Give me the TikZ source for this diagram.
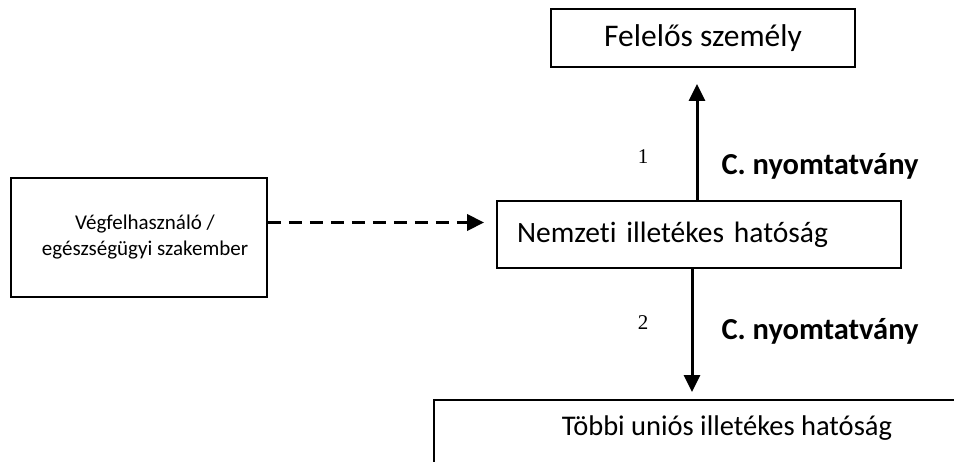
\documentclass[tikz,border=0pt]{standalone}
\usepackage{fontspec}
\setmainfont{Carlito}[Ligatures={NoCommon,TeX}]
\newfontfamily\numfont{Liberation Serif}
\usetikzlibrary{arrows.meta}
\tikzset{
  box/.style={draw=black, line width=1.8pt, rectangle, inner sep=0pt},
  arr/.style={line width=3pt, -{Triangle[width=16pt,length=17pt]}},
  dasharr/.style={line width=3.4pt, dash pattern=on 13pt off 8pt, -{Triangle[width=16pt,length=17pt]}},
  clabel/.style={font=\fontsize{30.5}{34}\selectfont\bfseries},
  nlabel/.style={font=\fontsize{21}{24}\selectfont\numfont}
}
\begin{document}
\begin{tikzpicture}[x=1pt,y=-1pt]
\useasboundingbox (0,0) rectangle (954,461);
\clip (0,0) rectangle (954,461);
\node[box, font=\fontsize{31.5}{36}\selectfont, minimum width=304pt, minimum height=58pt] (felelos) at (703,38) {Felelős személy};
\node[box, font=\fontsize{29.5}{34}\selectfont, minimum width=404pt, minimum height=67pt, text width=364pt, align=left, inner xsep=20pt] (nemzeti) at (699,234.5) {Nemzeti illetékes hatóság};
\node[box, minimum width=256pt, minimum height=119pt, align=center, font=\fontsize{21}{26}\selectfont] (veg) at (139,237.5) {\hspace*{12pt}Végfelhasználó /\\\hspace*{12pt}egészségügyi szakember};
\node[box, minimum width=560pt, minimum height=80pt, anchor=north west] (tobbi) at (433,399) {};
\node[font=\fontsize{28.5}{33}\selectfont] (tobbitext) at (727,428) {Többi uniós illetékes hatóság};
\draw[arr, shorten >=16pt] ([xshift=-2pt]nemzeti.north) -- ([xshift=-2pt]nemzeti.north |- felelos.south);
\draw[arr, shorten >=7pt] ([xshift=-7pt]nemzeti.south) -- ([xshift=-7pt]nemzeti.south |- tobbi.north);
\draw[dasharr, shorten >=12pt] ([yshift=15pt]veg.east) -- ([yshift=15pt]veg.east -| nemzeti.west);
\node[nlabel] (n1) at (643,157) {1};
\node[clabel] (c1) at (820,166) {C. nyomtatvány};
\node[nlabel] (n2) at (643,323) {2};
\node[clabel] (c2) at (820,331) {C. nyomtatvány};
\end{tikzpicture}
\end{document}
